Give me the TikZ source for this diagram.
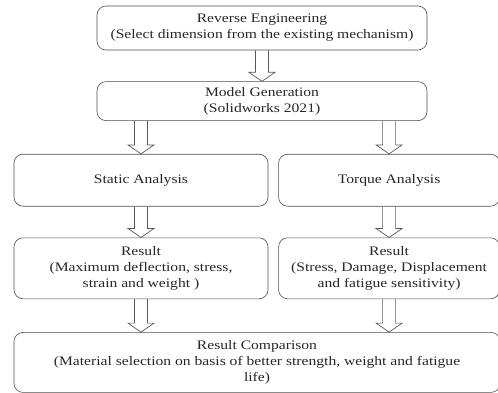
\documentclass[tikz,border=0pt]{standalone}
\usepackage{fontspec}
\setmainfont[FakeStretch=1.2]{Liberation Serif}
\usepackage{tikz}
\usetikzlibrary{positioning, calc}
\tikzset{
  stage/.style={rectangle, rounded corners=9pt, draw=black!70, line width=0.6pt,
                inner sep=1pt, align=center, text=black!85,
                font=\fontsize{13}{16}\selectfont},
  harrow/.style={draw=black!65, line width=0.7pt,
                 to path={let \p1=(\tikztostart), \p2=(\tikztotarget) in
                   (\x1-6.5pt,\y1) -- (\x1-6.5pt,\y2+9pt) -- (\x1-13pt,\y2+9pt) -- (\x1,\y2)
                   -- (\x1+13pt,\y2+9pt) -- (\x1+6.5pt,\y2+9pt) -- (\x1+6.5pt,\y1)}}
}
\begin{document}
\begin{tikzpicture}
\useasboundingbox (-262pt,28pt) rectangle ++(498pt,-392pt);
\node[stage, minimum width=330pt, minimum height=44pt] (rev) {Reverse Engineering\\ (Select dimension from the existing mechanism)};
\node[stage, minimum width=330pt, minimum height=39pt, below=31pt of rev] (model) {Model Generation\\ (Solidworks 2021)};
\node[stage, minimum width=254pt, minimum height=52pt, below=33pt of model.south west, anchor=north west, xshift=-83pt] (stat) {Static Analysis};
\node[stage, minimum width=221pt, minimum height=52pt, right=10pt of stat] (torq) {Torque Analysis};
\node[stage, minimum width=254pt, minimum height=61pt, below=31pt of stat] (resl) {Result\\ (Maximum deflection, stress,\\ strain and weight )};
\node[stage, minimum width=221pt, minimum height=61pt, right=10pt of resl] (resr) {Result\\ (Stress, Damage, Displacement\\ and fatigue sensitivity)};
\node[stage, minimum width=486pt, minimum height=60pt, below=33pt of resl.south west, anchor=north west] (comp) {Result Comparison\\ (Material selection on basis of better strength, weight and fatigue\\ life)};
\draw[harrow] (rev.south) to (model.north);
\draw[harrow] (model.south -| stat.north) to (stat.north);
\draw[harrow] (model.south -| torq.north) to (torq.north);
\draw[harrow] (stat.south) to (resl.north);
\draw[harrow] (torq.south) to (resr.north -| torq.south);
\draw[harrow] (resl.south) to (comp.north -| resl.south);
\draw[harrow] (resr.south -| torq.south) to (comp.north -| torq.south);
\end{tikzpicture}
\end{document}
